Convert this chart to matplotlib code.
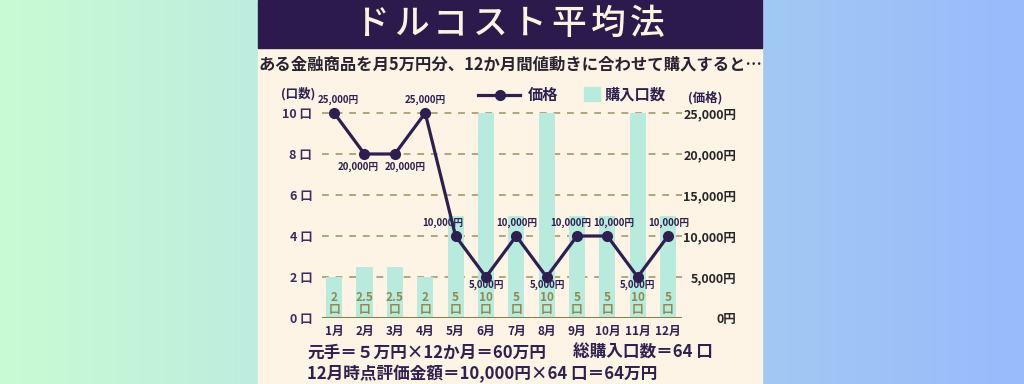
import numpy as np
import matplotlib
matplotlib.use("Agg")
import matplotlib.pyplot as plt
from matplotlib.patches import Rectangle
from matplotlib.lines import Line2D
from matplotlib.colors import to_rgb

plt.rcParams['font.family'] = ['Noto Sans CJK JP', 'DejaVu Sans']

# ---- data ----
months = ['1月', '2月', '3月', '4月', '5月', '6月', '7月', '8月', '9月', '10月', '11月', '12月']
units = [2, 2.5, 2.5, 2, 5, 10, 5, 10, 5, 5, 10, 5]
unit_labels = ['2', '2.5', '2.5', '2', '5', '10', '5', '10', '5', '5', '10', '5']
prices = [25000, 20000, 20000, 25000, 10000, 5000, 10000, 5000, 10000, 10000, 5000, 10000]
left_ticks = [0, 2, 4, 6, 8, 10]
left_tick_labels = ['0 口', '2 口', '4 口', '6 口', '8 口', '10 口']
right_ticks = [0, 5000, 10000, 15000, 20000, 25000]
right_tick_labels = ['0円', '5,000円', '10,000円', '15,000円', '20,000円', '25,000円']
title = 'ドルコスト平均法'
subtitle = 'ある金融商品を月5万円分、12か月間値動きに合わせて購入すると…'
line1a = '元手＝５万円×12か月＝60万円'
line1b = '総購入口数＝64 口'
line2 = '12月時点評価金額＝10,000円×64 口＝64万円'

# label placement (pixel offsets from the point)
label_dx = [4, -6, 10, 0, -13, 1, 1, 1, -6, 6, 0, 1]
label_dy = [13, -13, -13, 13, 13, -8, 13, -8, 13, 13, -8, 13]

W, H = 1024, 384
fig = plt.figure(figsize=(W / 100, H / 100), dpi=100)

# ---- background ----
bg = fig.add_axes([0, 0, 1, 1])
bg.set_zorder(0)
xs = np.arange(W)
stops_x = [0, 258, 762, 1023]
stops_c = [to_rgb('#c8fcd3'), to_rgb('#bdeddf'), to_rgb('#a2c9f3'), to_rgb('#97bbfc')]
grad = np.zeros((1, W, 3))
for k in range(3):
    grad[0, :, k] = np.interp(xs, stops_x, [c[k] for c in stops_c])
bg.imshow(grad, extent=(0, W, H, 0), aspect='auto')
bg.add_patch(Rectangle((258, 0), 504, H, color='#fdf4e6', zorder=2))
bg.add_patch(Rectangle((258, 0), 504, 48, color='#2b1a4b', zorder=3))
bg.set_xlim(0, W)
bg.set_ylim(H, 0)
bg.axis('off')

dark = '#2e2150'

def ftext(x, y, s, **kw):
    fig.text(x / W, 1 - y / H, s, **kw)

# title (letter-spaced)
n = len(title)
x0, x1 = 352, 667
step = (x1 - x0) / n
for i, ch in enumerate(title):
    ftext(x0 + step * (i + 0.5), 24, ch, ha='center', va='center', fontsize=25,
          color='#fdf3e2', fontweight='medium')

ftext(510, 65, subtitle, ha='center', va='center', fontsize=11.8, color='#2a2230',
      fontweight='bold')

# ---- chart axes ----
ax_l, ax_r, ax_b, ax_t = 322, 682, 318, 105
px_per_unit = 20.5
ytop = (ax_b - ax_t) / px_per_unit
ax = fig.add_axes([ax_l / W, 1 - ax_b / H, (ax_r - ax_l) / W, (ax_b - ax_t) / H])
ax.set_zorder(1)
ax.patch.set_alpha(0)
x = np.arange(len(months))
ax.bar(x, units, width=0.53, color='#b8eade', zorder=1)
ax.set_xlim(-0.4, 11.46)
ax.set_ylim(0, ytop)
for t in left_ticks[1:]:
    ax.axhline(t, color='#b4a47e', lw=1.4, ls=(0, (3.5, 3.5)), zorder=0.5)
ax.axhline(0, color='#8c7f45', lw=2.2, zorder=3)
for s in ax.spines.values():
    s.set_visible(False)
ax.set_xticks(x, months)
ax.set_yticks(left_ticks, left_tick_labels)
ax.tick_params(axis='x', length=0, pad=5, labelsize=8.5, labelcolor=dark)
ax.tick_params(axis='y', length=0, pad=7, labelsize=9, labelcolor='#3b2d5c')
for lab in ax.get_xticklabels() + ax.get_yticklabels():
    lab.set_fontweight('bold')

for xi, lab in zip(x, unit_labels):
    ax.text(xi, 0.70, f'{lab}\n口', ha='center', va='center', fontsize=8.5, color='#8f8a4e',
            fontweight='bold', linespacing=0.92, zorder=2)

ax2 = ax.twinx()
ax2.set_zorder(2)
ax2.patch.set_alpha(0)
ax2.set_ylim(0, ytop * 2500)
ax2.plot(x, prices, color='#2d1f4f', lw=2.3, marker='o', markersize=7, zorder=4)
for s in ax2.spines.values():
    s.set_visible(False)
ax2.set_yticks(right_ticks, right_tick_labels)
ax2.tick_params(axis='y', length=0, pad=39, labelsize=9, labelcolor='#262626')
for lab in ax2.get_yticklabels():
    lab.set_ha('right')
    lab.set_fontweight('bold')

for xi, p, dx, dy in zip(x, prices, label_dx, label_dy):
    ax2.annotate(f'{p:,}円', (xi, p), xytext=(dx * 0.72, dy * 0.72), textcoords='offset points',
                 ha='center', va='center', fontsize=7, color=dark, fontweight='bold', zorder=5)

# axis titles
ftext(298, 94, '(口数)', ha='center', va='center', fontsize=9, color=dark, fontweight='bold')
ftext(705, 98, '(価格)', ha='center', va='center', fontsize=9, color=dark, fontweight='bold')

# legend (manual)
leg = fig.add_axes([0, 0, 1, 1])
leg.set_zorder(3)
leg.patch.set_alpha(0)
leg.set_xlim(0, W)
leg.set_ylim(H, 0)
leg.axis('off')
leg.add_line(Line2D([478, 520], [95, 95], color='#2d1f4f', lw=2.3))
leg.plot([500], [95], 'o', color='#2d1f4f', markersize=7)
leg.text(528, 95, '価格', ha='left', va='center', fontsize=11, color=dark, fontweight='bold')
leg.add_patch(Rectangle((584, 87), 16, 14, color='#b8eade'))
leg.text(605, 95, '購入口数', ha='left', va='center', fontsize=11, color=dark, fontweight='bold')

# bottom text
ftext(307, 353, line1a, ha='left', va='center', fontsize=12, color=dark, fontweight='bold')
ftext(573, 353, line1b, ha='left', va='center', fontsize=12, color=dark, fontweight='bold')
ftext(307, 374, line2, ha='left', va='center', fontsize=12, color=dark, fontweight='bold')

fig.savefig('out.png', dpi=100)
